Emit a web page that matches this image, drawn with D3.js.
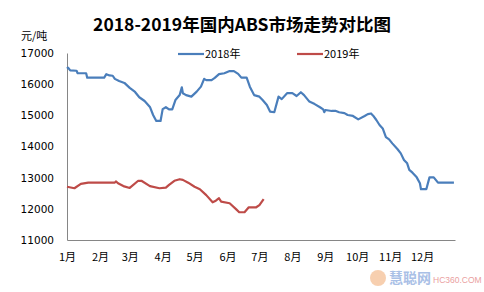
<!DOCTYPE html>
<html>
<head>
<meta charset="utf-8">
<script src="https://cdn.jsdelivr.net/npm/d3@7"></script>
<style>
  body { margin: 0; background: #fff; }
  svg { display: block; }
</style>
</head>
<body>
<script>
const dates2018 = ["01-01","01-02","01-04","01-10","01-11","01-19","01-20","02-05","02-07","02-10",
    "02-13","02-15","02-19","02-24","03-01","03-06","03-10","03-15","03-20","03-23",
    "03-26","03-30","04-01","04-04","04-07","04-10","04-13","04-15","04-17","04-19",
    "04-20","04-23","04-28","05-03","05-07","05-10","05-12","05-17","05-20","05-24",
    "05-29","06-03","06-07","06-11","06-14","06-19","06-22","06-26","07-01","07-04",
    "07-08","07-11","07-15","07-19","07-22","07-27","08-01","08-05","08-09","08-12",
    "08-17","08-22","08-27","08-30","08-31","09-01","09-07","09-11","09-14","09-19",
    "09-22","09-27","10-02","10-08","10-11","10-14","10-16","10-19","10-22","10-25",
    "10-28","10-31","11-03","11-08","11-11","11-14","11-17","11-19","11-22","11-26",
    "11-29","11-30","12-05","12-08","12-12","12-16","12-31"];
const price2018 = [16500,16530,16440,16430,16350,16350,16210,16210,16320,16280,
    16270,16170,16100,16040,15880,15750,15580,15460,15270,15010,
    14820,14820,15200,15260,15190,15190,15490,15570,15650,15900,
    15710,15650,15600,15760,15920,16170,16130,16130,16200,16320,
    16350,16420,16420,16330,16210,16210,15920,15650,15600,15490,
    15330,15120,15100,15600,15520,15710,15710,15620,15740,15650,
    15440,15360,15260,15190,15100,15170,15140,15140,15100,15070,
    15010,14980,14870,14980,15040,15060,14990,14850,14690,14580,
    14300,14230,14100,13910,13780,13570,13460,13250,13160,13010,
    12820,12630,12630,13010,13010,12840,12840];

const dates2019 = ["01-01","01-08","01-14","01-21","02-15","02-16","02-18","02-23","03-01","03-09",
    "03-12","03-20","03-29","04-04","04-07","04-12","04-17","04-20","04-25","05-01",
    "05-06","05-12","05-18","05-21","05-24","05-26","06-03","06-09","06-12","06-17",
    "06-21","06-28","07-01","07-05"];
const price2019 = [12710,12660,12800,12840,12840,12880,12820,12730,12670,12900,
    12900,12730,12660,12680,12770,12900,12950,12930,12840,12710,
    12630,12440,12210,12260,12340,12230,12180,11990,11890,11890,
    12050,12050,12120,12310];

const seriesNames = ["2018年", "2019年"];
const seriesColors = ["#4a7ebb", "#be4b48"];
const yTicks = [11000, 12000, 13000, 14000, 15000, 16000, 17000];

const width = 484, height = 292;
const plotLeft = 67, plotRight = 455, plotTop = 53, plotBottom = 240;

// both years drawn on one Jan..Dec axis
const parse = d3.timeParse("%Y-%m-%d");
function toPoints(dates, values) {
    return dates.map(function (d, i) {
        return { date: parse("2018-" + d), value: values[i] };
    });
}
const series = [toPoints(dates2018, price2018), toPoints(dates2019, price2019)];

const svg = d3.select("body").append("svg")
    .attr("width", width)
    .attr("height", height);

const x = d3.scaleTime()
    .domain([new Date(2018, 0, 1), new Date(2019, 0, 1)])
    .range([plotLeft, plotRight]);
const y = d3.scaleLinear().domain([11000, 17000]).range([plotBottom, plotTop]);

const font = "'Liberation Sans', Arial, sans-serif";

// faint watermark, drawn first so the chart sits on top
const wm = svg.append("g");
wm.append("circle").attr("cx", 378).attr("cy", 278).attr("r", 8)
    .attr("fill", "#f0a060").attr("opacity", 0.5);
wm.append("text").attr("x", 389).attr("y", 283)
    .style("font-family", "'Noto Sans CJK SC', sans-serif")
    .style("font-size", "14px").style("font-weight", "bold")
    .attr("fill", "#a9c0e6").text("慧聪网");
wm.append("text").attr("x", 433).attr("y", 283)
    .style("font-family", font)
    .style("font-size", "8.5px").attr("fill", "#eaa0a0").text("HC360.COM");

svg.append("text")
    .attr("x", 242).attr("y", 31)
    .attr("text-anchor", "middle")
    .style("font-family", "'Noto Sans CJK SC', sans-serif")
    .style("font-weight", "bold")
    .style("font-size", "17.5px")
    .text("2018-2019年国内ABS市场走势对比图");

svg.append("text")
    .attr("x", 21).attr("y", 40)
    .style("font-family", "'Noto Sans CJK SC', sans-serif")
    .style("font-size", "11px")
    .text("元/吨");

const xAxis = d3.axisBottom(x)
    .tickValues(d3.timeMonth.range(new Date(2018, 0, 1), new Date(2019, 0, 1)))
    .tickFormat(function (d) { return (d.getMonth() + 1) + "月"; })
    .tickSize(0).tickPadding(13);
const yAxis = d3.axisLeft(y).tickValues(yTicks).tickFormat(d3.format("d"))
    .tickSize(0).tickPadding(13);

const gx = svg.append("g")
    .attr("transform", "translate(0," + plotBottom + ")")
    .call(xAxis);
const gy = svg.append("g")
    .attr("transform", "translate(" + plotLeft + ",0)")
    .call(yAxis);

[gx, gy].forEach(function (g) {
    g.select(".domain").attr("stroke", "#868686").attr("stroke-width", 1);
    g.selectAll("text")
        .attr("fill", "#000")
        .style("font-family", "'Noto Sans CJK SC', sans-serif")
        .style("font-size", "11px");
});
gy.selectAll("text").style("font-family", "'DejaVu Sans', sans-serif").style("font-size", "10.5px");

const line = d3.line()
    .x(function (d) { return x(d.date); })
    .y(function (d) { return y(d.value); });

series.forEach(function (s, i) {
    svg.append("path")
        .attr("d", line(s))
        .attr("fill", "none")
        .attr("stroke", seriesColors[i])
        .attr("stroke-width", 2.2)
        .attr("stroke-linejoin", "round");
});

// legend
const legendX = [178, 297];
seriesNames.forEach(function (name, i) {
    const g = svg.append("g").attr("transform", "translate(" + legendX[i] + ",54)");
    g.append("line")
        .attr("x1", 0).attr("x2", 26)
        .attr("stroke", seriesColors[i]).attr("stroke-width", 2.2);
    g.append("text")
        .attr("x", 27).attr("y", 4)
        .style("font-family", "'Noto Sans CJK SC', sans-serif")
        .style("font-size", "11px")
        .text(name);
});
</script>
</body>
</html>
